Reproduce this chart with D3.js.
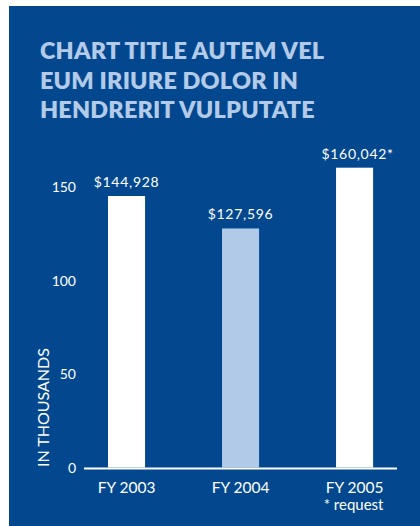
<!DOCTYPE html>
<html>
<head>
<meta charset="utf-8">
<script src="https://cdn.jsdelivr.net/npm/d3@7"></script>
<style>
  html, body { margin: 0; padding: 0; background: #ffffff; }
  svg { display: block; }
</style>
</head>
<body>
<svg id="chart" width="420" height="526"></svg>
<script>
// Funding by fiscal year (values in thousands of dollars)
const categories = ["FY 2003", "FY 2004", "FY 2005"];
const values = [144.928, 127.596, 160.042];
const valueLabels = ["$144,928", "$127,596", "$160,042*"];
const barColors = ["#ffffff", "#b0cae7", "#ffffff"];
const yTicks = [0, 50, 100, 150];
const titleLines = ["CHART TITLE AUTEM VEL", "EUM IRIURE DOLOR IN", "HENDRERIT VULPUTATE"];
const footnote = "* request";
const yAxisTitle = "IN THOUSANDS";

const svg = d3.select("#chart");
const font = "Lato, 'Open Sans', sans-serif";

// panel background
svg.append("rect")
  .attr("x", 9).attr("y", 6)
  .attr("width", 411).attr("height", 520)
  .attr("fill", "#03488f");

// title
svg.append("g").selectAll("text")
  .data(titleLines)
  .join("text")
  .attr("x", 40)
  .attr("y", (d, i) => 59 + i * 29.5)
  .attr("fill", "#b3cbe8")
  .attr("font-family", font)
  .attr("font-weight", 800)
  .attr("font-size", 23.4)
  .attr("letter-spacing", 0.2)
  .text(d => d);

const x = d3.scaleBand()
  .domain(categories)
  .range([73.8, 407.3])
  .paddingInner(0.675)
  .paddingOuter(0.3);

const y = d3.scaleLinear()
  .domain([0, 150])
  .range([467.5, 186.5]);

// bars
svg.append("g").selectAll("rect")
  .data(values)
  .join("rect")
  .attr("x", (d, i) => x(categories[i]))
  .attr("width", x.bandwidth())
  .attr("y", d => y(d))
  .attr("height", d => y(0) - y(d))
  .attr("fill", (d, i) => barColors[i]);

// value labels
svg.append("g").selectAll("text")
  .data(values)
  .join("text")
  .attr("x", (d, i) => x(categories[i]) + x.bandwidth() / 2 + (i === 2 ? 3 : 0))
  .attr("y", d => y(d) - 9)
  .attr("text-anchor", "middle")
  .attr("fill", "#ffffff")
  .attr("font-family", font)
  .attr("font-size", 14)
  .attr("letter-spacing", 0.7)
  .text((d, i) => valueLabels[i]);

// y axis ticks (labels only)
const yAxis = d3.axisLeft(y).tickValues(yTicks).tickSize(0).tickPadding(0);
const yg = svg.append("g").attr("transform", "translate(76,0)").call(yAxis);
yg.select(".domain").remove();
yg.selectAll("text")
  .attr("fill", "#ffffff")
  .attr("font-family", font)
  .attr("font-size", 14)
  .attr("dy", "0.35em");

// baseline
svg.append("line")
  .attr("x1", 84).attr("x2", 397)
  .attr("y1", y(0) + 1).attr("y2", y(0) + 1)
  .attr("stroke", "#ffffff")
  .attr("stroke-width", 2);

// category labels
const xAxis = d3.axisBottom(x).tickSize(0).tickPadding(0);
const xg = svg.append("g").attr("transform", "translate(0,482)").call(xAxis);
xg.select(".domain").remove();
xg.selectAll("text")
  .attr("fill", "#ffffff")
  .attr("font-family", font)
  .attr("font-size", 15.5)
  .attr("dy", "0.71em");

// footnote under last category
svg.append("text")
  .attr("x", x(categories[2]) + x.bandwidth() / 2 - 1)
  .attr("y", 510)
  .attr("text-anchor", "middle")
  .attr("fill", "#ffffff")
  .attr("font-family", font)
  .attr("font-size", 15)
  .text(footnote);

// y axis title
svg.append("text")
  .attr("transform", "translate(48.5,467) rotate(-90)")
  .attr("fill", "#ffffff")
  .attr("font-family", font)
  .attr("font-size", 16)
  .text(yAxisTitle);
</script>
</body>
</html>
